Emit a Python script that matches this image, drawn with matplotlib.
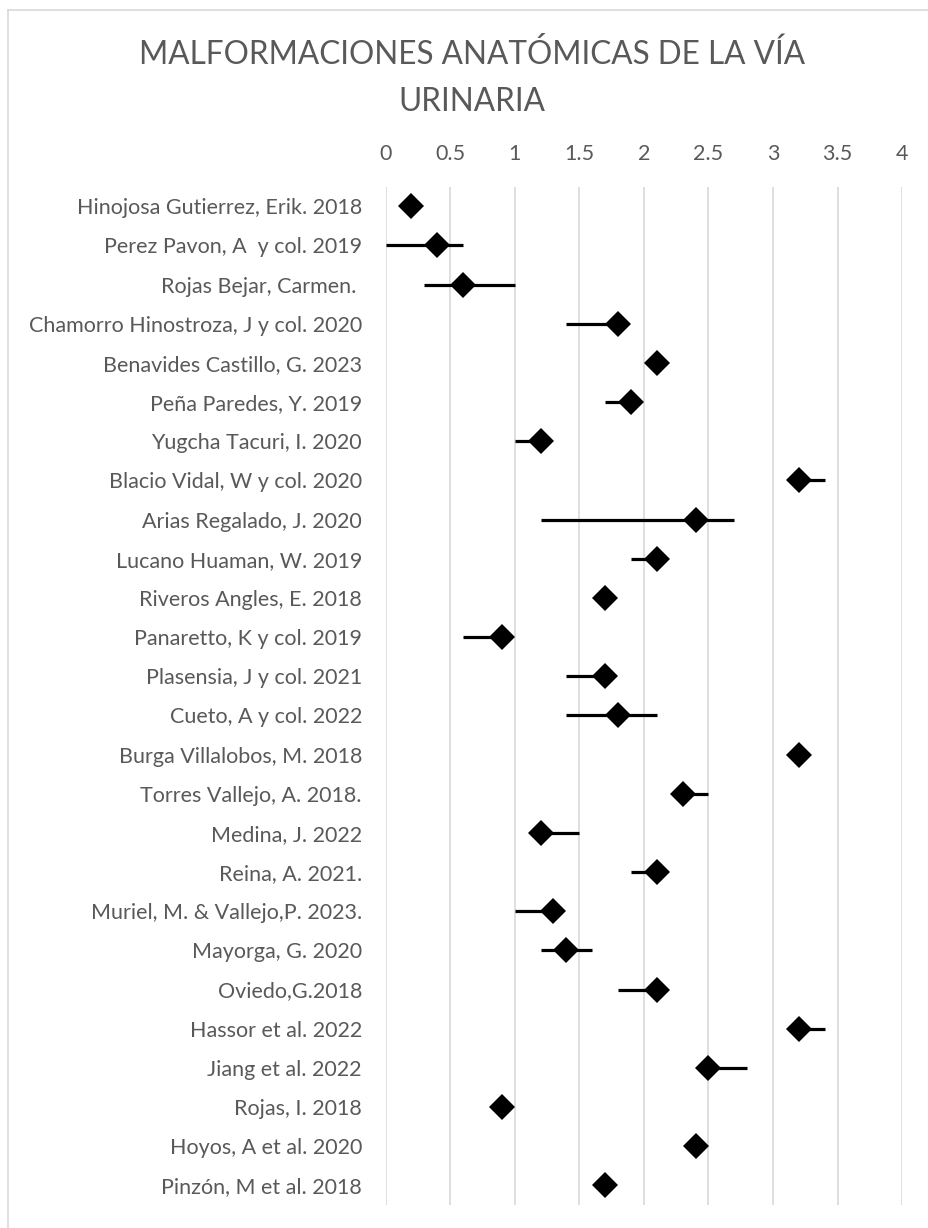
import matplotlib
matplotlib.use("Agg")
import matplotlib.pyplot as plt
from matplotlib.lines import Line2D
import numpy as np

# Studies (top to bottom) with point estimate and interval bounds
studies = [
    "Hinojosa Gutierrez, Erik. 2018",
    "Perez Pavon, A  y col. 2019",
    "Rojas Bejar, Carmen. ",
    "Chamorro Hinostroza, J y col. 2020",
    "Benavides Castillo, G. 2023",
    "Peña Paredes, Y. 2019",
    "Yugcha Tacuri, I. 2020",
    "Blacio Vidal, W y col. 2020",
    "Arias Regalado, J. 2020",
    "Lucano Huaman, W. 2019",
    "Riveros Angles, E. 2018",
    "Panaretto, K y col. 2019",
    "Plasensia, J y col. 2021",
    "Cueto, A y col. 2022",
    "Burga Villalobos, M. 2018",
    "Torres Vallejo, A. 2018.",
    "Medina, J. 2022",
    "Reina, A. 2021.",
    "Muriel, M. & Vallejo,P. 2023.",
    "Mayorga, G. 2020",
    "Oviedo,G.2018",
    "Hassor et al. 2022",
    "Jiang et al. 2022",
    "Rojas, I. 2018",
    "Hoyos, A et al. 2020",
    "Pinzón, M et al. 2018",
]
estimate = [0.2, 0.4, 0.6, 1.8, 2.1, 1.9, 1.2, 3.2, 2.4, 2.1, 1.7, 0.9, 1.7,
            1.8, 3.2, 2.3, 1.2, 2.1, 1.3, 1.4, 2.1, 3.2, 2.5, 0.9, 2.4, 1.7]
lower = [0.2, 0.0, 0.3, 1.4, 2.1, 1.7, 1.0, 3.2, 1.2, 1.9, 1.7, 0.6, 1.4,
         1.4, 3.2, 2.3, 1.2, 1.9, 1.0, 1.2, 1.8, 3.2, 2.5, 0.9, 2.4, 1.7]
upper = [0.2, 0.6, 1.0, 1.8, 2.1, 1.9, 1.2, 3.4, 2.7, 2.1, 1.7, 0.9, 1.7,
         2.1, 3.2, 2.5, 1.5, 2.1, 1.3, 1.6, 2.1, 3.4, 2.8, 0.9, 2.4, 1.7]
x_ticks = [0, 0.5, 1, 1.5, 2, 2.5, 3, 3.5, 4]
title_lines = ["MALFORMACIONES ANATÓMICAS DE LA VÍA", "URINARIA"]

plt.rcParams["font.family"] = ["Lato", "DejaVu Sans"]
text_grey = "#595959"
grid_grey = "#d9d9d9"

W, H = 929, 1228
fig = plt.figure(figsize=(W / 100, H / 100), dpi=100)

# chart-area frame (top and left edges visible)
fig.add_artist(Line2D([8 / W, 1.0], [1 - 10 / H, 1 - 10 / H], color=grid_grey, lw=1.2))
fig.add_artist(Line2D([8 / W, 8 / W], [0.0, 1 - 10 / H], color=grid_grey, lw=1.2))

left, right = 385.5, 902.3
top, bottom = 186.7, 1205.0
ax = fig.add_axes([left / W, 1 - bottom / H, (right - left) / W, (bottom - top) / H])

est = np.array(estimate)
lo = np.array(lower)
hi = np.array(upper)
y = np.arange(len(studies))

ax.errorbar(est, y, xerr=[est - lo, hi - est], fmt="D", color="black",
            ecolor="black", elinewidth=2.3, capsize=0, markersize=13.5,
            markeredgewidth=0, zorder=3)

ax.set_xlim(0, 4)
ax.set_ylim(len(studies) - 0.5, -0.5)
ax.set_xticks(x_ticks)
ax.set_xticklabels([f"{t:g}" for t in x_ticks])
ax.set_yticks(y)
ax.set_yticklabels(studies)
ax.xaxis.tick_top()
ax.tick_params(axis="both", length=0, colors=text_grey, labelsize=15.5)
ax.tick_params(axis="x", pad=16)
ax.tick_params(axis="y", pad=17)
ax.grid(axis="x", color=grid_grey, lw=1.2)
ax.set_axisbelow(True)
for s in ax.spines.values():
    s.set_visible(False)

for line, ypx in zip(title_lines, [55, 102]):
    fig.text(472 / W, 1 - ypx / H, line, ha="center", va="center",
             fontsize=22.7, color=text_grey)

fig.savefig("out.png", dpi=100)
